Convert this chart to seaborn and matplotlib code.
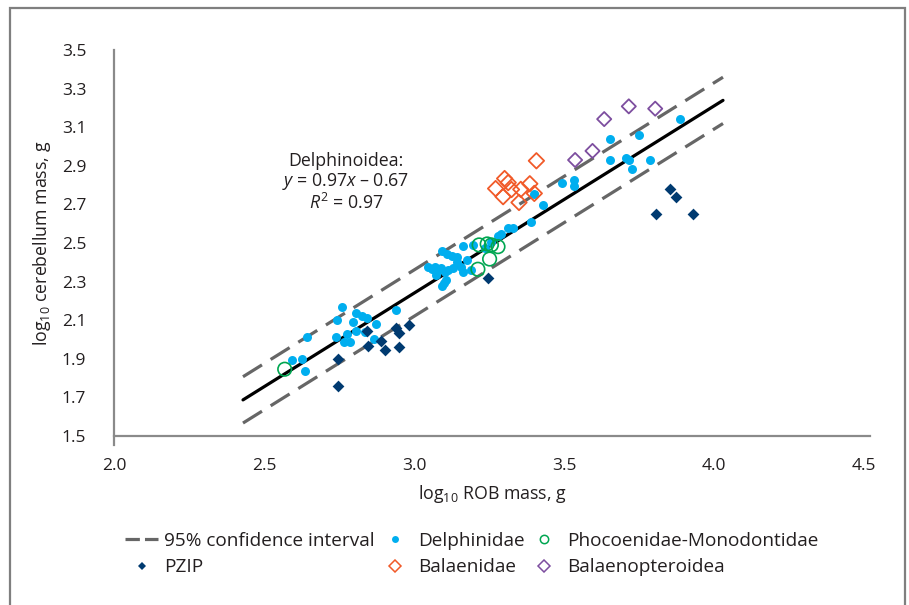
import matplotlib
matplotlib.use("Agg")
import matplotlib.pyplot as plt
from matplotlib.lines import Line2D
from matplotlib.patches import Rectangle
import numpy as np
import pandas as pd
import seaborn as sns

# log10 ROB mass (x) and log10 cerebellum mass (y) per group
delph_x = [2.593, 2.625, 2.638, 2.644, 2.759, 2.742, 2.806, 2.797, 2.826, 2.843,
           2.873, 2.940, 2.776, 2.805, 2.836, 2.740, 2.765, 2.786, 2.866,
           3.094, 3.110, 3.127, 3.144, 3.164, 3.197, 3.047, 3.060, 3.070, 3.080,
           3.090, 3.104, 3.114, 3.130, 3.157, 3.164, 3.107, 3.100, 3.094, 3.074,
           3.144, 3.177, 3.191, 3.237, 3.258, 3.281, 3.291,
           3.313, 3.330, 3.391, 3.431, 3.399, 3.493, 3.533, 3.533, 3.652, 3.749,
           3.652, 3.706, 3.716, 3.726, 3.786, 3.888]
delph_y = [1.892, 1.897, 1.838, 2.013, 2.170, 2.101, 2.136, 2.092, 2.122, 2.113,
           2.082, 2.153, 2.027, 2.046, 2.037, 2.013, 1.985, 1.985, 2.001,
           2.459, 2.443, 2.433, 2.427, 2.484, 2.490, 2.376, 2.365, 2.376, 2.360,
           2.370, 2.350, 2.360, 2.370, 2.376, 2.350, 2.308, 2.293, 2.277, 2.334,
           2.402, 2.412, 2.360, 2.474, 2.505, 2.536, 2.547,
           2.578, 2.578, 2.611, 2.697, 2.755, 2.812, 2.826, 2.795, 3.039, 3.060,
           2.930, 2.939, 2.930, 2.882, 2.930, 3.141]

phoc_x = [2.569, 3.217, 3.244, 3.258, 3.280, 3.252, 3.213]
phoc_y = [1.846, 2.490, 2.495, 2.490, 2.481, 2.417, 2.364]

pzip_x = [2.747, 2.747, 2.843, 2.845, 2.890, 2.903, 2.940, 2.950, 2.984, 2.950,
          3.246, 3.854, 3.873, 3.806, 3.930]
pzip_y = [1.899, 1.758, 2.044, 1.966, 1.992, 1.946, 2.058, 2.032, 2.077, 1.960,
          2.317, 2.780, 2.740, 2.649, 2.650]

bal_x = [3.408, 3.302, 3.314, 3.272, 3.325, 3.356, 3.386, 3.297, 3.401, 3.350]
bal_y = [2.926, 2.834, 2.813, 2.782, 2.777, 2.778, 2.807, 2.740, 2.757, 2.710]

balp_x = [3.634, 3.716, 3.804, 3.537, 3.595]
balp_y = [3.142, 3.208, 3.196, 2.930, 2.977]

# Delphinoidea regression and its 95% confidence band
slope, intercept = 0.97, -0.67
fit_range = [2.43, 4.03]
ci_half_width = 0.12

x_ticks = [2.0, 2.5, 3.0, 3.5, 4.0, 4.5]
y_ticks = [1.5, 1.7, 1.9, 2.1, 2.3, 2.5, 2.7, 2.9, 3.1, 3.3, 3.5]

sns.set_theme(style="white")
plt.rcParams["font.family"] = ["Open Sans", "DejaVu Sans"]
plt.rcParams["mathtext.fontset"] = "custom"
plt.rcParams["mathtext.rm"] = "Open Sans"
plt.rcParams["mathtext.it"] = "Open Sans:italic"

TEXT = "#231f20"
C_DELPH = "#00AEEF"
C_PHOC = "#00A651"
C_PZIP = "#003A70"
C_BAL = "#F15A29"
C_BALP = "#7D4E9F"
C_CI = "#666666"

fig = plt.figure(figsize=(9.09, 6.05), dpi=100)
ax = fig.add_axes([114 / 909, 1 - 436 / 605, (870 - 114) / 909, (436 - 50) / 605])

fit = pd.DataFrame({"x": fit_range})
fit["y"] = slope * fit["x"] + intercept
fit["upper"] = fit["y"] + ci_half_width
fit["lower"] = fit["y"] - ci_half_width

sns.lineplot(data=fit, x="x", y="upper", ax=ax, color=C_CI, lw=2.3,
             zorder=2).lines[-1].set_dashes((7, 3.2))
sns.lineplot(data=fit, x="x", y="lower", ax=ax, color=C_CI, lw=2.3,
             zorder=2).lines[-1].set_dashes((7, 3.2))
sns.lineplot(data=fit, x="x", y="y", ax=ax, color="black", lw=2.3, zorder=2)

sns.scatterplot(x=delph_x, y=delph_y, ax=ax, color=C_DELPH, marker="o",
                s=42, linewidth=0, zorder=3)
sns.scatterplot(x=pzip_x, y=pzip_y, ax=ax, color=C_PZIP, marker="D",
                s=36, linewidth=0, zorder=3)
sns.scatterplot(x=phoc_x, y=phoc_y, ax=ax, marker="o", s=95,
                facecolor="none", edgecolor=C_PHOC, linewidth=1.2, zorder=4)
sns.scatterplot(x=bal_x, y=bal_y, ax=ax, marker="D", s=62,
                facecolor="none", edgecolor=C_BAL, linewidth=1.3, zorder=4)
sns.scatterplot(x=balp_x, y=balp_y, ax=ax, marker="D", s=52,
                facecolor="none", edgecolor=C_BALP, linewidth=1.3, zorder=4)

ax.set_xlim(2.0, 4.52)
ax.set_ylim(1.5, 3.5)
ax.set_xticks(x_ticks)
ax.set_yticks(y_ticks)
ax.set_xticklabels([f"{v:.1f}" for v in x_ticks])
ax.set_yticklabels([f"{v:.1f}" for v in y_ticks])
for side in ("top", "right"):
    ax.spines[side].set_visible(False)
for side in ("left", "bottom"):
    ax.spines[side].set_color("#8a8a8a")
    ax.spines[side].set_linewidth(1.6)
ax.spines["left"].set_bounds(1.453, 3.5)
ax.tick_params(axis="both", direction="out", length=6, width=1.4,
               color="#444444", labelsize=12.5, labelcolor=TEXT)
ax.tick_params(axis="x", pad=10)
ax.tick_params(axis="y", pad=14)
ax.set_xlabel("log$_{10}$ ROB mass, g", fontsize=12.8, color=TEXT, labelpad=6)
ax.set_ylabel("log$_{10}$ cerebellum mass, g", fontsize=12.8, color=TEXT,
              labelpad=6)

ax.text(2.773, 2.925, "Delphinoidea:", ha="center", va="center",
        fontsize=12.8, color=TEXT)
ax.text(2.773, 2.818, "$y$ = 0.97$x$ – 0.67", ha="center", va="center",
        fontsize=12.8, color=TEXT)
ax.text(2.773, 2.705, "$R^{\\mathrm{2}}$ = 0.97", ha="center", va="center",
        fontsize=12.8, color=TEXT)

handles = [
    Line2D([], [], color=C_CI, lw=2.3, dashes=(4.5, 1.6)),
    Line2D([], [], color=C_PZIP, marker="D", ls="none", markersize=4.5,
           markeredgewidth=0),
    Line2D([], [], color=C_DELPH, marker="o", ls="none", markersize=5,
           markeredgewidth=0),
    Line2D([], [], color=C_BAL, marker="D", ls="none", markersize=6,
           markerfacecolor="none", markeredgewidth=1.1),
    Line2D([], [], color=C_PHOC, marker="o", ls="none", markersize=6,
           markerfacecolor="none", markeredgewidth=1.1),
    Line2D([], [], color=C_BALP, marker="D", ls="none", markersize=6,
           markerfacecolor="none", markeredgewidth=1.1),
]
labels = ["95% confidence interval", "PZIP", "Delphinidae", "Balaenidae",
          "Phocoenidae-Monodontidae", "Balaenopteroidea"]
leg = fig.legend(handles, labels, ncol=3, loc="center",
                 bbox_to_anchor=(472 / 909, 1 - 554 / 605), frameon=False,
                 fontsize=13.7, handlelength=1.7, handletextpad=0.35,
                 columnspacing=0.2, labelspacing=0.45)
for t in leg.get_texts():
    t.set_color(TEXT)

fig.patches.append(Rectangle((10 / 909, -0.05), (905 - 10) / 909, 1.05 - 8 / 605,
                             transform=fig.transFigure, fill=False,
                             edgecolor="#7f7f7f", linewidth=1.6))

fig.savefig("out.png", dpi=100)
